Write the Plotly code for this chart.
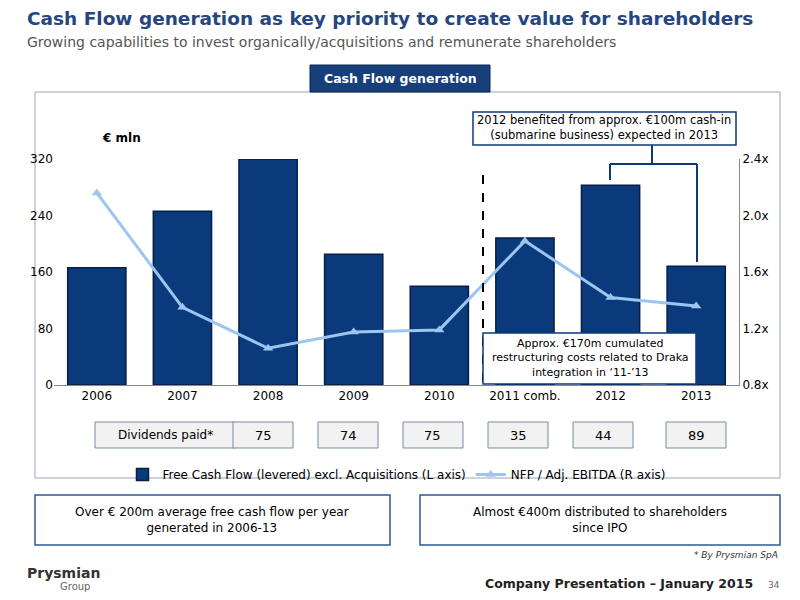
import plotly.graph_objects as go

years = ["2006", "2007", "2008", "2009", "2010", "2011 comb.", "2012", "2013"]
fcf = [166, 246, 320, 185, 140, 208, 283, 168]
nfp_ebitda = [2.16, 1.35, 1.06, 1.175, 1.19, 1.82, 1.42, 1.36]
dividends = [75, 74, 75, 35, 44, 89]

FONT = "DejaVu Sans"
NAVY = "#0b3a7c"
OFF = 8  # page margin of the browser
FW, FH = 800 - 2 * OFF, 600 - 2 * OFF
L, T, W, H = 54 - OFF, 159 - OFF, 685, 226
R, B = FW - L - W, FH - T - H


def px(x):
    return (x - OFF - L) / W


def py(y):
    return (FH - B - (y - OFF)) / H


fig = go.Figure()
fig.add_trace(go.Bar(x=years, y=fcf, name="Free Cash Flow (levered) excl. Acquisitions (L axis)",
                     marker=dict(color=NAVY, line=dict(color="#061f45", width=1.5)), width=0.68))
fig.add_trace(go.Scatter(x=years, y=nfp_ebitda, name="NFP / Adj. EBITDA (R axis)", yaxis="y2",
                         mode="lines+markers", line=dict(color="#9cc6f0", width=3),
                         marker=dict(symbol="triangle-up", size=9, color="#9cc6f0")))

shapes, ann = [], []


def box(x0, y0, x1, y1, fill="white", line="#2d5a9a", lw=1.5, layer="below"):
    shapes.append(dict(type="rect", xref="paper", yref="paper", x0=px(x0), x1=px(x1),
                       y0=py(y1), y1=py(y0), fillcolor=fill, line=dict(color=line, width=lw), layer=layer))


def text(x, y, s, size=12, color="black", bold=False, anchor="center"):
    if bold:
        s = "<b>" + s + "</b>"
    ann.append(dict(x=px(x), y=py(y), xref="paper", yref="paper", text=s, showarrow=False,
                    xanchor=anchor, yanchor="middle", font=dict(family=FONT, size=size, color=color)))


def seg(x0, y0, x1, y1, color=NAVY, width=1.5, dash="solid"):
    shapes.append(dict(type="line", xref="paper", yref="paper", x0=px(x0), x1=px(x1),
                       y0=py(y0), y1=py(y1), line=dict(color=color, width=width, dash=dash)))


# frame
box(35, 92, 780, 478, fill="white", line="#9aa6b8", lw=1)
# tab
box(310, 65, 490, 92, fill="#173f7a", line="#0a2550", lw=1)
text(400, 78, "Cash Flow generation", 12.5, "white", True)
# header
text(25, 19, "Cash Flow generation as key priority to create value for shareholders", 18.5, "#25467e", True, "left")
text(25, 42, "Growing capabilities to invest organically/acquisitions and remunerate shareholders", 14, "#555", False, "left")

text(100, 138, "€ mln", 12, "black", True, "left")
# dashed separator
seg(483, 175, 483, 385, color="black", width=2, dash="dash")
# top callout
box(473, 112, 736, 145, line=NAVY)
text(604, 128, "2012 benefited from approx. €100m cash-in<br>(submarine business) expected in 2013", 11.5)
seg(610, 180, 610, 164, width=2)
seg(610, 164, 697, 164, width=2)
seg(697, 164, 697, 262, width=2)
seg(652, 164, 652, 145, width=2)
# middle callout
box(483, 333, 696, 384, line=NAVY, layer="above")
text(590, 358, "Approx. €170m cumulated<br>restructuring costs related to Draka<br>integration in ‘11-’13", 11)

# dividends row
box(95, 422, 235, 448, fill="#f2f2f2", line="#7a8aa6", lw=1)
text(165, 435, "Dividends paid*", 12)
xs = [263, 348, 433, 518, 603, 696]
for x, v in zip(xs, dividends):
    box(x - 30, 422, x + 30, 448, fill="#f2f2f2", line="#7a8aa6", lw=1)
    text(x, 435, str(v), 13)

# bottom boxes
box(35, 495, 390, 545)
text(212, 520, "Over € 200m average free cash flow per year<br>generated in 2006-13", 12)
box(420, 495, 780, 545)
text(600, 520, "Almost €400m distributed to shareholders<br>since IPO", 12)
text(780, 555, "<i>* By Prysmian SpA</i>", 9, "#333", False, "right")

# footer
text(25, 573, "Prysmian", 14, "#333", True, "left")
text(58, 586, "Group", 10, "#666", False, "left")
text(755, 583, "Company Presentation – January 2015", 12.5, "#222", True, "right")
text(782, 585, "34", 9, "#666", False, "right")

fig.update_layout(
    width=FW, height=FH, paper_bgcolor="white", plot_bgcolor="rgba(0,0,0,0)",
    margin=dict(l=L, r=R, t=T, b=B), font=dict(family=FONT, size=12, color="black"),
    shapes=shapes, annotations=ann, showlegend=True,
    legend=dict(orientation="h", x=0.5, xanchor="center", y=py(460), yanchor="top",
                font=dict(size=12, family=FONT), bgcolor="rgba(0,0,0,0)"),
    xaxis=dict(showgrid=False, showline=True, linecolor="#888", ticks="", tickfont=dict(size=12)),
    yaxis=dict(range=[0, 320], tickvals=[0, 80, 160, 240, 320], showgrid=False, zeroline=False,
               showline=False, tickfont=dict(size=12)),
    yaxis2=dict(range=[0.8, 2.4], tickvals=[0.8, 1.2, 1.6, 2.0, 2.4],
                ticktext=["0.8x", "1.2x", "1.6x", "2.0x", "2.4x"], overlaying="y", side="right",
                showgrid=False, showline=True, linecolor="#888", tickfont=dict(size=12)),
)
fig.write_html("out.html")
